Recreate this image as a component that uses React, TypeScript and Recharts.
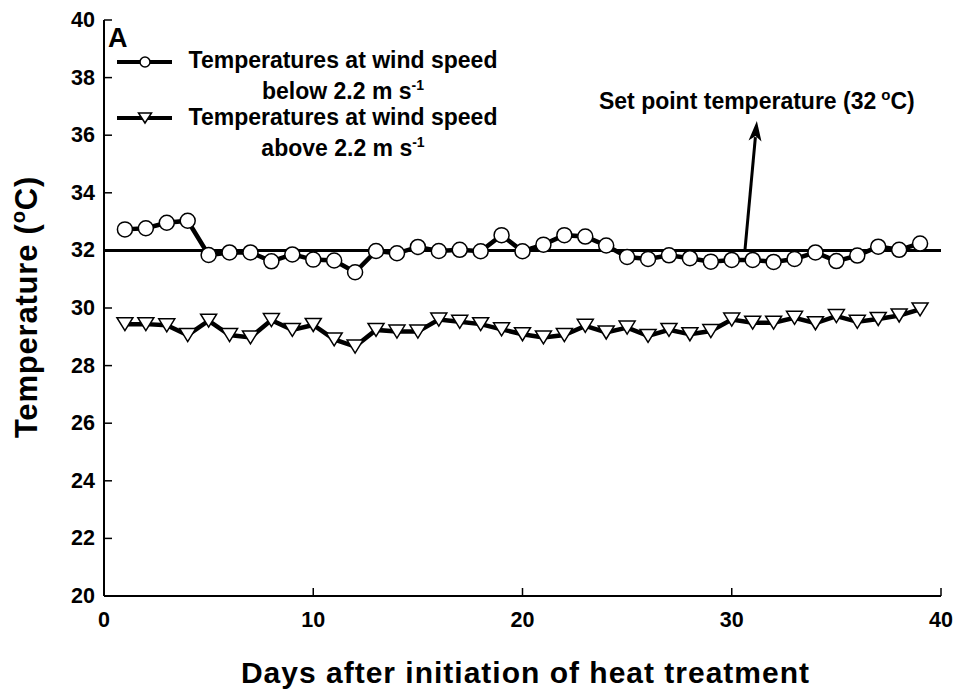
import React from "react";
import { LineChart, Line, XAxis, YAxis, ReferenceLine, Legend } from "recharts";

const days = [1,2,3,4,5,6,7,8,9,10,11,12,13,14,15,16,17,18,19,20,21,22,23,24,25,26,27,28,29,30,31,32,33,34,35,36,37,38,39];
const belowWind = [32.73,32.77,32.96,33.03,31.84,31.93,31.93,31.62,31.86,31.68,31.65,31.24,31.98,31.9,32.12,31.98,32.02,31.97,32.53,31.97,32.2,32.53,32.48,32.17,31.77,31.7,31.83,31.73,31.61,31.67,31.67,31.6,31.7,31.93,31.63,31.82,32.13,32.02,32.24];
const aboveWind = [29.44,29.44,29.4,29.06,29.56,29.06,28.98,29.58,29.24,29.41,28.91,28.66,29.24,29.18,29.18,29.6,29.52,29.44,29.26,29.09,28.98,29.06,29.38,29.15,29.32,29.03,29.24,29.09,29.2,29.6,29.49,29.49,29.66,29.47,29.72,29.52,29.62,29.74,29.95];
const xTicks = [0, 10, 20, 30, 40];
const yTicks = [20, 22, 24, 26, 28, 30, 32, 34, 36, 38, 40];
const setPoint = 32;
const arrowSegment = [{ x: 30.63, y: 32 }, { x: 31.2, y: 36.49 }];

const data = days.map((d, i) => ({ day: d, below: belowWind[i], above: aboveWind[i] }));

const FONT = "'Liberation Sans', Arial, Helvetica, sans-serif";

const BottomTick = (p: any) => (
  <g>
    <line x1={p.x} y1={p.y} x2={p.x} y2={p.y - 8} stroke="#000" strokeWidth={1.5} />
    <text x={p.x} y={p.y + 31} textAnchor="middle" fontSize={21.5} fontWeight="bold" fontFamily={FONT} fill="#000">
      {p.payload.value}
    </text>
  </g>
);
const LeftTick = (p: any) => (
  <g>
    <line x1={p.x} y1={p.y} x2={p.x + 8} y2={p.y} stroke="#000" strokeWidth={1.5} />
    <text x={p.x - 9} y={p.y + 7} textAnchor="end" fontSize={21.5} fontWeight="bold" fontFamily={FONT} fill="#000">
      {p.payload.value}
    </text>
  </g>
);
const TopTick = (p: any) => (
  <line x1={p.x} y1={p.y} x2={p.x} y2={p.y + 8} stroke="#000" strokeWidth={1.5} />
);
const RightTick = (p: any) => (
  <line x1={p.x} y1={p.y} x2={p.x - 8} y2={p.y} stroke="#000" strokeWidth={1.5} />
);

const CircleDot = (p: any) => (
  <circle key={p.index} cx={p.cx} cy={p.cy} r={7.5} fill="#fff" stroke="#000" strokeWidth={1.5} />
);
const TriDot = (p: any) => {
  const w = 8, h = 6.5;
  return (
    <polygon
      key={p.index}
      points={`${p.cx - w},${p.cy - h} ${p.cx + w},${p.cy - h} ${p.cx},${p.cy + h}`}
      fill="#fff"
      stroke="#000"
      strokeWidth={1.5}
    />
  );
};

const ArrowShape = (p: any) => {
  const { x1, y1, x2, y2 } = p;
  const dx = x2 - x1, dy = y2 - y1;
  const len = Math.sqrt(dx * dx + dy * dy);
  const ux = dx / len, uy = dy / len;
  const hl = 20, hw = 6.5;
  const bx = x2 - ux * hl, by = y2 - uy * hl;
  const nx = -uy, ny = ux;
  return (
    <g>
      <line x1={x1} y1={y1} x2={bx + ux * 4} y2={by + uy * 4} stroke="#000" strokeWidth={3} />
      <polygon
        points={`${x2},${y2} ${bx + nx * hw},${by + ny * hw} ${bx + ux * 5},${by + uy * 5} ${bx - nx * hw},${by - ny * hw}`}
        fill="#000"
      />
      <text x={x2} y={y2 - 12} textAnchor="middle" fontSize={23} fontWeight="bold" fontFamily={FONT} fill="#000">
        Set point temperature (32
        <tspan dx={5} dy={-9} fontSize={15}>o</tspan>
        <tspan dy={9}>C)</tspan>
      </text>
    </g>
  );
};

const LegendContent = () => (
  <svg width={440} height={150} style={{ display: "block", overflow: "visible" }}>
    <text x={4} y={27} fontSize={27} fontWeight="bold" fontFamily={FONT} fill="#000">A</text>
    <line x1={13} y1={42} x2={68} y2={42} stroke="#000" strokeWidth={4} />
    <circle cx={41} cy={42} r={5} fill="#fff" stroke="#000" strokeWidth={1.5} />
    <text x={239} y={48} textAnchor="middle" fontSize={23} fontWeight="bold" fontFamily={FONT} fill="#000">
      Temperatures at wind speed
    </text>
    <text x={239} y={79} textAnchor="middle" fontSize={23} fontWeight="bold" fontFamily={FONT} fill="#000">
      below 2.2 m s<tspan dy={-9} fontSize={14}>-1</tspan>
    </text>
    <line x1={13} y1={98} x2={68} y2={98} stroke="#000" strokeWidth={4} />
    <polygon points="34.5,93 47.5,93 41,103" fill="#fff" stroke="#000" strokeWidth={1.5} />
    <text x={239} y={105} textAnchor="middle" fontSize={23} fontWeight="bold" fontFamily={FONT} fill="#000">
      Temperatures at wind speed
    </text>
    <text x={239} y={136} textAnchor="middle" fontSize={23} fontWeight="bold" fontFamily={FONT} fill="#000">
      above 2.2 m s<tspan dy={-9} fontSize={14}>-1</tspan>
    </text>
  </svg>
);

const YTitle = (p: any) => {
  const vb = p.viewBox || { x: 0, y: 20, width: 104, height: 576 };
  const cy = vb.y + vb.height / 2 - 1;
  const cx = 37;
  return (
    <text x={cx} y={cy} transform={`rotate(-90, ${cx}, ${cy})`} textAnchor="middle" fontSize={31} fontWeight="bold" fontFamily={FONT} fill="#000" letterSpacing={0.8}>
      Temperature (<tspan dy={-12} fontSize={20}>o</tspan><tspan dy={12}>C)</tspan>
    </text>
  );
};

const XTitle = (p: any) => {
  const vb = p.viewBox || { x: 104, y: 596, width: 837, height: 98 };
  const cx = vb.x + vb.width / 2 + 3;
  return (
    <text x={cx} y={683} textAnchor="middle" fontSize={30} fontWeight="bold" fontFamily={FONT} fill="#000" letterSpacing={1}>
      Days after initiation of heat treatment
    </text>
  );
};

export default function App() {
  return (
    <div style={{ position: "absolute", left: 0, top: 0, width: 957, height: 694, background: "#fff" }}>
      <LineChart width={957} height={694} data={data} margin={{ top: 20, right: 16, bottom: 0, left: 0 }}>
        <XAxis
          dataKey="day"
          type="number"
          domain={[0, 40]}
          ticks={xTicks}
          tickSize={0}
          tickMargin={0}
          tickLine={false}
          height={98}
          axisLine={{ stroke: "#000", strokeWidth: 2 }}
          tick={<BottomTick />}
          label={<XTitle />}
          interval={0}
        />
        <XAxis
          xAxisId="top"
          orientation="top"
          type="number"
          domain={[0, 40]}
          ticks={xTicks}
          tickSize={0}
          tickMargin={0}
          tickLine={false}
          height={0}
          axisLine={{ stroke: "#000", strokeWidth: 2 }}
          tick={<TopTick />}
          interval={0}
          allowDataOverflow
        />
        <YAxis
          type="number"
          domain={[20, 40]}
          ticks={yTicks}
          tickSize={0}
          tickMargin={0}
          tickLine={false}
          width={104}
          axisLine={{ stroke: "#000", strokeWidth: 2 }}
          tick={<LeftTick />}
          label={<YTitle />}
          interval={0}
        />
        <YAxis
          yAxisId="right"
          orientation="right"
          type="number"
          domain={[20, 40]}
          ticks={yTicks}
          tickSize={0}
          tickMargin={0}
          tickLine={false}
          width={0}
          axisLine={{ stroke: "#000", strokeWidth: 2 }}
          tick={<RightTick />}
          interval={0}
          allowDataOverflow
        />
        <ReferenceLine y={setPoint} stroke="#000" strokeWidth={3} />
        <ReferenceLine segment={arrowSegment} shape={<ArrowShape />} />
        <Line
          type="linear"
          dataKey="below"
          stroke="#000"
          strokeWidth={4.5}
          dot={<CircleDot />}
          activeDot={false}
          isAnimationActive={false}
        />
        <Line
          type="linear"
          dataKey="above"
          stroke="#000"
          strokeWidth={4.5}
          dot={<TriDot />}
          activeDot={false}
          isAnimationActive={false}
        />
        <Legend
          layout="horizontal"
          verticalAlign="middle"
          align="center"
          wrapperStyle={{ top: 20, left: 104, width: 440, height: 150 }}
          content={<LegendContent />}
        />
      </LineChart>
    </div>
  );
}
